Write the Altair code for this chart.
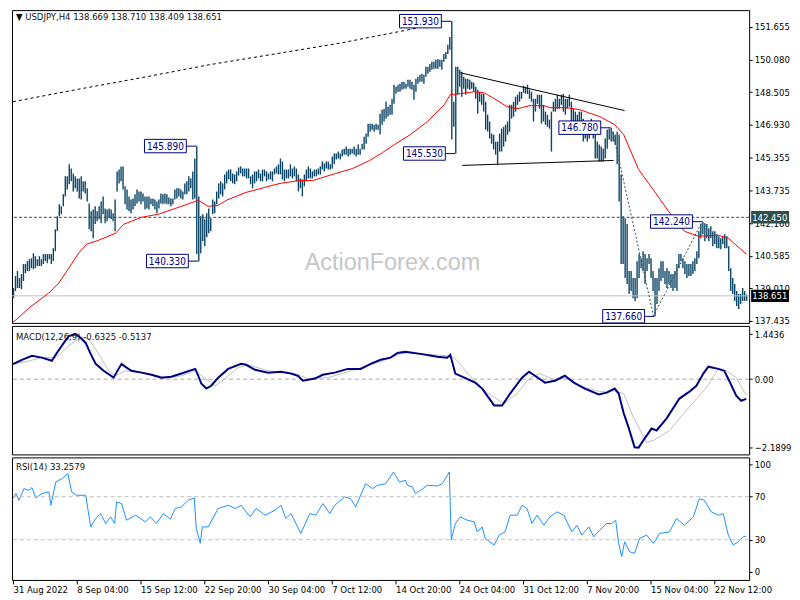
import json
import altair as alt
import pandas as pd

# ---------------- data ----------------
symbol_title = "\u25BC USDJPY,H4  138.669 138.710 138.409 138.651"
macd_title = "MACD(12,26,9) -0.6325 -0.5137"
rsi_title = "RSI(14) 33.2579"
watermark = "ActionForex.com"

bar_high = [
    139.03, 139.61, 139.85, 139.51, 139.71, 140.19, 140.19, 140.33, 140.42, 140.47,
    140.71, 140.57, 140.42, 140.57, 140.42, 140.67, 140.67, 140.67, 140.67, 140.67,
    140.95, 141.87, 142.50, 143.08, 142.98, 143.56, 144.43, 144.43, 145.01, 144.81,
    144.57, 144.43, 144.33, 144.33, 144.43, 144.19, 144.19, 143.85, 143.12, 142.74,
    142.83, 142.98, 142.74, 142.98, 143.22, 143.46, 142.88, 142.83, 142.88, 142.83,
    142.64, 143.31, 144.67, 144.76, 144.91, 144.91, 143.95, 143.80, 143.46, 143.31,
    143.36, 143.56, 143.80, 143.70, 143.70, 143.60, 143.46, 143.46, 143.46, 143.36,
    143.36, 143.31, 143.22, 143.31, 143.60, 143.56, 143.60, 143.56, 143.41, 143.36,
    143.36, 143.80, 143.85, 143.85, 143.80, 143.70, 144.09, 144.19, 144.43, 144.33,
    144.67, 145.29, 145.89, 143.46, 142.50, 142.60, 142.35, 142.64, 142.88, 142.40,
    143.31, 143.22, 143.70, 144.09, 144.19, 144.09, 144.52, 144.67, 144.76, 144.76,
    144.57, 144.52, 144.67, 144.86, 144.91, 144.81, 144.81, 144.81, 144.81, 144.43,
    144.52, 144.67, 144.67, 144.76, 144.57, 144.76, 144.76, 144.67, 144.57, 144.67,
    144.67, 144.81, 144.91, 145.01, 145.29, 145.15, 144.76, 144.76, 144.76, 145.01,
    144.81, 144.91, 144.81, 144.52, 144.33, 144.28, 144.52, 144.76, 144.91, 144.81,
    144.67, 144.76, 144.76, 144.81, 144.91, 145.15, 145.05, 145.15, 145.15, 145.01,
    145.39, 145.53, 145.53, 145.63, 145.53, 145.73, 145.77, 145.87, 145.77, 145.77,
    145.77, 145.87, 145.77, 145.97, 145.77, 146.01, 146.35, 146.50, 146.98, 146.98,
    146.98, 146.93, 146.98, 146.93, 147.46, 147.65, 147.70, 148.04, 147.80, 147.89,
    148.18, 148.86, 148.76, 148.86, 148.91, 149.00, 149.00, 148.91, 149.10, 149.10,
    149.00, 148.86, 149.15, 149.25, 149.34, 149.39, 149.34, 149.73, 149.73, 149.87,
    149.97, 149.97, 150.07, 150.11, 150.07, 150.07, 150.35, 150.45, 150.79, 151.17,
    151.93, 148.04, 149.73, 149.73, 149.58, 149.49, 149.25, 149.15, 149.15, 149.10,
    149.00, 148.96, 148.76, 148.62, 148.52, 148.42, 148.42, 148.04, 147.41, 147.08,
    146.50, 146.45, 146.11, 146.11, 146.50, 146.74, 146.83, 146.93, 147.08, 147.89,
    147.89, 148.04, 148.28, 148.38, 148.52, 148.52, 148.81, 148.76, 148.86, 148.62,
    148.52, 148.18, 148.18, 148.38, 148.38, 148.38, 147.89, 147.56, 147.41, 147.17,
    147.56, 148.04, 148.18, 148.38, 148.18, 148.38, 148.42, 148.18, 148.18, 148.38,
    148.04, 147.70, 147.56, 147.41, 147.56, 147.56, 147.22, 146.93, 146.74, 146.93,
    147.22, 146.93, 146.45, 146.11, 145.97, 145.87, 145.77, 146.26, 146.69, 146.74,
    146.78, 146.59, 146.45, 146.59, 146.45, 144.52, 142.50, 142.40, 142.12, 139.85,
    139.85, 139.51, 139.51, 140.33, 140.67, 140.47, 140.81, 140.67, 140.47, 140.67,
    140.47, 139.85, 139.51, 139.51, 139.99, 140.33, 140.33, 139.85, 139.99, 139.85,
    139.71, 139.71, 139.85, 140.19, 140.67, 140.67, 140.47, 140.33, 140.19, 140.19,
    140.19, 140.33, 140.47, 140.81, 141.78, 142.12, 142.24, 142.16, 142.12, 141.92,
    142.02, 141.78, 141.78, 141.63, 141.53, 141.44, 141.53, 141.63, 141.53, 141.05,
    139.99, 139.51, 139.22, 138.88, 138.74, 138.74, 139.03, 138.88, 138.71,
]
bar_low = [
    138.54, 138.88, 139.03, 139.03, 138.98, 139.37, 139.75, 139.85, 139.85, 139.99,
    139.94, 139.99, 140.09, 140.09, 140.09, 140.19, 140.33, 140.23, 140.42, 140.19,
    140.33, 140.81, 141.78, 142.50, 142.60, 142.98, 143.46, 143.80, 144.05, 144.19,
    143.70, 143.85, 143.70, 143.36, 143.31, 143.70, 143.60, 143.22, 141.87, 141.78,
    141.44, 142.12, 142.26, 142.35, 142.16, 142.60, 142.16, 142.26, 142.40, 142.35,
    142.26, 141.78, 143.70, 144.09, 144.19, 143.80, 143.08, 142.83, 142.74, 142.64,
    142.83, 142.98, 143.12, 143.22, 143.08, 143.22, 142.83, 142.88, 142.83, 143.08,
    142.98, 142.83, 142.64, 142.88, 143.12, 143.08, 143.12, 143.08, 143.08, 142.98,
    143.08, 143.31, 143.36, 143.46, 143.36, 143.31, 143.56, 143.56, 143.70, 143.85,
    143.31, 143.36, 140.67, 140.33, 140.71, 141.29, 141.05, 141.49, 141.68, 141.78,
    142.60, 142.64, 143.08, 143.36, 143.56, 143.46, 143.80, 144.09, 144.28, 144.19,
    144.09, 144.05, 144.19, 144.47, 144.57, 144.43, 144.43, 144.33, 144.33, 144.05,
    143.85, 144.09, 144.19, 144.33, 144.19, 144.19, 144.43, 144.19, 144.28, 144.28,
    144.19, 144.52, 144.57, 144.52, 144.52, 144.28, 144.19, 144.33, 144.33, 144.43,
    144.33, 144.43, 144.19, 143.70, 143.85, 143.46, 143.95, 144.19, 144.33, 144.33,
    144.33, 144.43, 144.43, 144.52, 144.52, 144.76, 144.67, 144.81, 144.76, 144.76,
    144.81, 145.01, 145.24, 145.29, 145.24, 145.39, 145.48, 145.48, 145.39, 145.48,
    145.53, 145.48, 145.39, 145.48, 145.48, 145.73, 145.73, 146.01, 146.35, 146.59,
    146.69, 146.59, 146.69, 146.69, 146.45, 146.93, 147.08, 147.22, 147.32, 147.41,
    147.41, 147.94, 148.42, 148.52, 148.52, 148.62, 148.67, 148.67, 148.76, 148.67,
    148.62, 148.14, 148.52, 148.91, 149.00, 149.00, 148.91, 149.25, 149.39, 149.49,
    149.58, 149.63, 149.63, 149.63, 149.73, 149.58, 149.97, 150.11, 150.35, 150.55,
    146.21, 146.83, 145.53, 148.38, 148.76, 148.28, 148.67, 148.38, 148.67, 148.62,
    148.67, 148.52, 148.18, 147.46, 148.04, 147.89, 147.56, 146.69, 146.59, 146.26,
    146.01, 145.73, 145.48, 145.01, 145.63, 145.63, 145.87, 146.11, 146.45, 146.59,
    147.22, 147.32, 147.56, 147.89, 148.04, 148.18, 148.47, 148.42, 148.42, 148.18,
    148.04, 147.08, 147.56, 147.94, 147.70, 146.98, 147.08, 146.93, 146.83, 146.74,
    145.63, 147.56, 147.56, 147.70, 147.70, 147.89, 147.56, 147.41, 147.70, 147.80,
    147.08, 147.08, 146.93, 146.45, 146.93, 146.59, 146.11, 146.26, 146.11, 146.26,
    146.45, 146.26, 145.29, 145.29, 145.15, 145.15, 145.15, 145.29, 145.77, 146.21,
    146.11, 146.11, 145.97, 145.01, 143.22, 140.19, 140.19, 139.51, 139.22, 138.74,
    138.88, 138.54, 138.40, 138.54, 139.51, 139.99, 139.85, 139.22, 139.85, 140.19,
    139.51, 138.88, 137.66, 138.26, 138.88, 139.37, 139.51, 139.22, 139.03, 139.22,
    139.03, 138.88, 139.03, 138.88, 139.99, 140.33, 139.99, 139.71, 139.51, 139.61,
    139.61, 139.71, 139.85, 140.19, 140.47, 141.44, 141.63, 141.29, 141.44, 141.29,
    141.44, 141.05, 141.15, 140.95, 140.95, 140.90, 141.15, 140.95, 140.95, 139.85,
    138.88, 138.74, 138.40, 138.16, 138.02, 138.26, 138.40, 138.40, 138.41,
]

ema_i = [0, 1.5, 8, 18, 23, 28, 33, 37, 43, 51.5, 55.5, 64.5, 73, 81.5, 91.5, 93, 98, 103, 107,
         117, 134, 144, 150.5, 162, 170.5, 179, 185.5, 191.5, 199.5, 208, 216.5, 219.5, 224.5,
         231.5, 236.5, 241.5, 248, 253, 259.5, 266.5, 269.5, 278, 284.5, 294.5, 302, 306.5, 314,
         322, 329, 337, 344, 354, 359, 368]
ema_v = [137.38, 137.49, 138.06, 138.79, 139.27, 139.99, 140.72, 141.15, 141.34, 141.68, 142.11,
         142.45, 142.60, 142.88, 143.22, 143.27, 142.98, 143.03, 143.27, 143.655, 144.09, 144.23,
         144.23, 144.57, 144.81, 145.20, 145.58, 145.97, 146.45, 147.08, 147.90, 148.38, 148.43,
         148.52, 148.47, 148.19, 147.80, 147.70, 147.85, 147.85, 147.75, 147.75, 147.655, 147.32,
         146.93, 146.45, 144.76, 143.70, 142.74, 141.775, 141.535, 141.58, 141.44, 140.67]

sma_i = [0, 31.5, 64.5, 98, 131.5, 164.5, 198, 203]
sma_v = [148.04, 148.62, 149.20, 149.82, 150.35, 150.88, 151.51, 151.61]

macd_i = [0, 4.5, 9.5, 14.5, 19.5, 22, 25.5, 28, 31.5, 34, 36.5, 39, 41.5, 45.5, 50.5, 53, 54.5,
          57, 59.5, 64.5, 69.5, 74.5, 79.5, 84.5, 91.5, 93, 94.5, 97, 99.5, 103, 108, 114.5, 117,
          121.5, 128, 134.5, 139.5, 143, 145.5, 151.5, 155.5, 161.5, 168, 174.5, 179.5, 184.5,
          189.5, 193, 197, 204.5, 213, 218, 219.5, 222, 226.5, 232, 235.5, 241.5, 245.5, 249.5,
          255.5, 259, 262, 267, 272, 277, 281.5, 287, 294, 298, 302, 304, 306.5, 309, 312, 314,
          317, 320.5, 323, 328, 334.5, 339.5, 343, 346.5, 349, 354, 357, 359.5, 363, 365.5, 368]
macd_v = [0.48, 0.62, 0.75, 0.69, 0.59, 0.84, 1.16, 1.38, 1.44, 1.32, 1.16, 0.81, 0.49, 0.27,
          0.05, 0.33, 0.49, 0.37, 0.27, 0.21, 0.14, 0.05, 0.08, 0.18, 0.33, 0.11, -0.14, -0.30,
          -0.21, 0.05, 0.33, 0.49, 0.46, 0.30, 0.21, 0.24, 0.18, 0.11, -0.05, 0.02, 0.14, 0.21,
          0.33, 0.33, 0.49, 0.62, 0.69, 0.84, 0.88, 0.81, 0.72, 0.69, 0.78, 0.18, 0.05, -0.11,
          -0.30, -0.84, -0.84, -0.46, 0.05, 0.24, 0.11, -0.11, -0.05, 0.11, -0.11, -0.30, -0.49,
          -0.43, -0.30, -0.46, -1.08, -1.55, -2.18, -2.19, -1.90, -1.58, -1.64, -1.26, -0.62,
          -0.40, -0.21, 0.18, 0.40, 0.33, 0.27, -0.05, -0.53, -0.69, -0.63]

sig_i = [0, 6.5, 14.5, 21.5, 28, 34, 38, 43, 48, 51.5, 56.5, 64.5, 78, 84.5, 91.5, 96.5, 101.5,
         106.5, 113, 118, 128, 141.5, 148, 158, 173, 184.5, 194.5, 198, 218, 221.5, 231.5, 238,
         246.5, 253, 259.5, 264.5, 271.5, 278, 284.5, 294.5, 301.5, 306.5, 311.5, 318, 321.5,
         329.5, 338, 348, 354, 358, 363, 368]
sig_v = [0.49, 0.56, 0.69, 0.69, 1.07, 1.35, 1.29, 0.81, 0.27, 0.11, 0.27, 0.21, 0.05, 0.11,
         0.27, 0.02, -0.21, 0.02, 0.37, 0.46, 0.27, 0.18, 0.02, 0.05, 0.33, 0.56, 0.81, 0.84,
         0.75, 0.69, -0.05, -0.43, -0.78, -0.46, 0.05, 0.18, -0.02, 0.02, -0.21, -0.40, -0.37,
         -0.46, -1.23, -2.02, -1.96, -1.64, -1.00, -0.27, 0.33, 0.27, 0.05, -0.51]

rsi_i = [0, 1.5, 3, 5.5, 8, 9.5, 11.5, 14.5, 18, 19, 21.5, 24.5, 27.5, 29.5, 32, 36.5, 39, 41.5,
         44, 46.5, 49, 51, 52, 54.5, 57, 61.5, 66.5, 69, 72, 75.5, 79, 81.5, 84.5, 88, 91, 92, 94,
         95, 98, 103, 108, 111.5, 114.5, 119, 122, 126.5, 131.5, 134.5, 137, 139.5, 144.5, 149,
         152, 155.5, 159, 161.5, 166.5, 169.5, 172, 177, 180.5, 183, 187, 191, 194, 197, 198,
         200.5, 202, 204.5, 208, 213, 215.5, 219, 220, 222, 224.5, 228, 231.5, 233, 235.5, 237,
         241.5, 244, 247, 249.5, 253, 255.5, 258, 260.5, 263, 266.5, 269.5, 273, 276.5, 280.5,
         283, 285.5, 289, 291.5, 294.5, 298, 300.5, 302.5, 304, 305.5, 307, 309.5, 312, 314.5,
         318, 321.5, 324.5, 329.5, 333, 337, 341.5, 344.5, 347, 350.5, 354, 356.5, 359, 361.5,
         364, 366.5, 368]
rsi_v = [68.2, 72.9, 66.7, 77.5, 75.9, 78.4, 68.8, 72.9, 74.4, 62.0, 83.6, 86.7, 91.4, 74.4,
         71.3, 71.3, 41.9, 49.7, 54.3, 45.1, 51.2, 45.1, 65.1, 63.6, 48.1, 52.8, 46.6, 51.2,
         45.1, 54.3, 49.1, 59.0, 60.5, 66.7, 68.8, 40.4, 26.6, 41.9, 41.9, 59.0, 62.0, 59.0,
         62.0, 51.2, 59.0, 52.8, 57.4, 62.0, 49.7, 54.3, 35.8, 54.3, 52.8, 63.6, 54.3, 62.0,
         69.8, 68.2, 60.5, 82.1, 77.5, 80.6, 82.1, 92.9, 83.6, 85.2, 80.6, 79.0, 72.9, 75.9,
         80.6, 79.9, 82.1, 92.9, 29.6, 45.1, 51.2, 48.1, 46.6, 37.3, 41.9, 31.2, 25.0, 34.3,
         37.3, 52.8, 52.8, 62.0, 59.0, 45.1, 52.8, 43.5, 51.2, 55.8, 52.8, 37.3, 43.5, 34.3,
         41.9, 32.7, 38.9, 45.1, 45.1, 48.1, 26.6, 14.2, 28.1, 18.8, 17.3, 31.2, 34.3, 26.6,
         35.8, 37.3, 49.7, 43.5, 51.2, 68.2, 66.7, 55.8, 52.8, 54.3, 34.3, 25.0, 28.1, 32.7,
         33.26]

trend_i = [224.5, 307, 225.5, 301.5]
trend_v = [149.44, 147.61, 144.96, 145.20]
trend_g = ["upper", "upper", "lower", "lower"]

zig_i = [301, 321.5, 346]
zig_v = [146.59, 137.68, 142.26]

ann_text = ["151.930", "145.890", "140.330", "145.530", "146.780", "142.240", "137.660"]
ann_price = [151.93, 145.89, 140.33, 145.53, 146.78, 142.24, 137.66]
ann_bar = [220, 92, 93, 222, 300, 346, 322]

level_price = [142.45]
last_price = [138.651]
tag_text = ["142.450", "138.651"]
tag_price = [142.45, 138.651]
tag_color = ["#2f4f4f", "#000000"]

price_ticks = [151.655, 150.080, 148.505, 146.930, 145.355, 143.735, 142.160, 140.585, 139.010, 137.435]
macd_ticks = [1.4436, 0.0, -2.1899]
rsi_ticks = [100, 70, 30, 0]
rsi_levels = [70, 30]
x_labels = ["31 Aug 2022", "8 Sep 04:00", "15 Sep 12:00", "22 Sep 20:00", "30 Sep 04:00",
            "7 Oct 12:00", "14 Oct 20:00", "24 Oct 04:00", "31 Oct 12:00", "7 Nov 20:00",
            "15 Nov 04:00", "22 Nov 12:00"]
x_label_step = 32

# ---------------- layout / style ----------------
FONT = "'DejaVu Sans Condensed', 'Liberation Sans', sans-serif"
FS = 9.5
W = 740
H1, H2, H3 = 314, 129, 123
XDOM = [-0.5, 369.5]
PDOM = [137.342, 152.47]
MDOM = [-2.407, 1.705]
RDOM = [-7.4, 106.5]
BAR = "#0c4566"
NAVY = "#000080"

xs = alt.Scale(domain=XDOM, nice=False, zero=False)
ps = alt.Scale(domain=PDOM, nice=False, zero=False)
ms = alt.Scale(domain=MDOM, nice=False, zero=False)
rs = alt.Scale(domain=RDOM, nice=False, zero=False)

P_AXIS = alt.Axis(orient="right", values=price_ticks, format=".3f", tickSize=3,
                  labelPadding=2, labelAlign="left", labelBaseline="middle")
M_AXIS = alt.Axis(orient="right", values=macd_ticks, tickSize=3, labelPadding=2,
                  labelAlign="left", labelBaseline="middle",
                  labelExpr="datum.value == 0 ? '0.00' : format(datum.value, '.4f')")
R_AXIS = alt.Axis(orient="right", values=rsi_ticks, format="d", tickSize=3,
                  labelPadding=2, labelAlign="left", labelBaseline="middle")
lab_expr = json.dumps(x_labels) + f"[round(datum.value / {x_label_step})]"
X_AXIS = alt.Axis(orient="bottom", values=[x_label_step * k for k in range(len(x_labels))],
                  labelExpr=lab_expr, tickSize=4, labelPadding=1, labelAlign="left",
                  labelBaseline="top")


def X(f="i"):
    return alt.X(f"{f}:Q", scale=xs, axis=None, title=None)


def XR(f="i"):
    return alt.X(f"{f}:Q", scale=xs, axis=X_AXIS, title=None)


def YP(f):
    return alt.Y(f"{f}:Q", scale=ps, axis=P_AXIS, title=None)


def YM(f):
    return alt.Y(f"{f}:Q", scale=ms, axis=M_AXIS, title=None)


def YR(f):
    return alt.Y(f"{f}:Q", scale=rs, axis=R_AXIS, title=None)


bars = pd.DataFrame({"i": list(range(len(bar_high))), "high": bar_high, "low": bar_low})
ema = pd.DataFrame({"i": ema_i, "v": ema_v})
sma = pd.DataFrame({"i": sma_i, "v": sma_v})
trend = pd.DataFrame({"i": trend_i, "v": trend_v, "g": trend_g})
zig = pd.DataFrame({"i": zig_i, "v": zig_v})
ann = pd.DataFrame({"t": ann_text, "p": ann_price, "b": ann_bar})
tags = pd.DataFrame({"t": tag_text, "p": tag_price, "c": tag_color})

# ---- price panel ----
bar_l = alt.Chart(bars).mark_rule(color=BAR, strokeWidth=1.4, opacity=1, strokeOpacity=1,
                                  xOffset=0.5).encode(x=X(), y=YP("high"), y2="low:Q")

wm = alt.Chart(pd.DataFrame({"t": [watermark]})).mark_text(
    font="Liberation Sans", fontSize=23.5, color="#c6c6c6", align="center", baseline="middle"
).encode(x=alt.value(382), y=alt.value(254), text="t:N")

lvl = alt.Chart(pd.DataFrame({"p": level_price})).mark_rule(
    color="#2f4f4f", strokeDash=[3, 2], strokeWidth=1).encode(y=YP("p"))
cur = alt.Chart(pd.DataFrame({"p": last_price})).mark_rule(
    color="#c0c0c0", strokeWidth=1).encode(y=YP("p"))

sma_l = alt.Chart(sma).mark_line(color="#000000", strokeWidth=1, strokeDash=[3, 3]).encode(
    x=X(), y=YP("v"), order="i:Q")
ema_l = alt.Chart(ema).mark_line(color="#ff0000", strokeWidth=1).encode(
    x=X(), y=YP("v"), order="i:Q")
trend_l = alt.Chart(trend).mark_line(color="#000000", strokeWidth=1).encode(
    x=X(), y=YP("v"), detail="g:N", order="i:Q")
zig_l = alt.Chart(zig).mark_line(color="#2f4f4f", strokeWidth=1, strokeDash=[2, 2]).encode(
    x=X(), y=YP("v"), order="i:Q")

ann_base = alt.Chart(ann).transform_calculate(
    r="datum.b - 5", l="datum.b - 26", c="datum.b - 15.5",
    top="datum.p + 0.33", bot="datum.p - 0.32")
ann_box = ann_base.mark_rect(fill="white", stroke=NAVY, strokeWidth=1).encode(
    x=X("l"), x2="r:Q", y=YP("top"), y2="bot:Q")
ann_txt = ann_base.mark_text(font=FONT, fontSize=FS + 0.5, color=NAVY, align="center",
                             baseline="middle", dy=0.5).encode(x=X("c"), y=YP("p"), text="t:N")
ann_con = ann_base.mark_rule(color=NAVY, strokeWidth=1).encode(x=X("r"), x2="b:Q", y=YP("p"))

tag_base = alt.Chart(tags).transform_calculate(top="datum.p + 0.3", bot="datum.p - 0.3")
tag_box = tag_base.mark_rect().encode(
    x=alt.value(W + 2), x2=alt.value(W + 40), y=YP("top"), y2="bot:Q",
    fill=alt.Color("c:N", scale=None))
tag_txt = tag_base.mark_text(font=FONT, fontSize=FS, color="white", align="left",
                             baseline="middle", dy=0.5).encode(
    x=alt.value(W + 3), y=YP("p"), text="t:N")

ttl = alt.Chart(pd.DataFrame({"t": [symbol_title]})).mark_text(
    font=FONT, fontSize=FS, color="#111111", align="left", baseline="middle"
).encode(x=alt.value(4), y=alt.value(7), text="t:N")

price = alt.layer(bar_l, wm, lvl, cur, sma_l, ema_l, ann_box, ann_con, ann_txt,
                  trend_l, zig_l, tag_box, tag_txt, ttl).properties(width=W, height=H1)

# ---- MACD ----
macd_df = pd.DataFrame({"i": macd_i, "v": macd_v})
sig_df = pd.DataFrame({"i": sig_i, "v": sig_v})
zero = alt.Chart(pd.DataFrame({"v": [0.0]})).mark_rule(
    color="#a8a8a8", strokeDash=[4, 3], strokeWidth=1).encode(y=YM("v"))
sig_l = alt.Chart(sig_df).mark_line(color="#c0c0c0", strokeWidth=1).encode(
    x=X(), y=YM("v"), order="i:Q")
macd_l = alt.Chart(macd_df).mark_line(color=NAVY, strokeWidth=2).encode(
    x=X(), y=YM("v"), order="i:Q")
mttl = alt.Chart(pd.DataFrame({"t": [macd_title]})).mark_text(
    font=FONT, fontSize=FS, color="#111111", align="left", baseline="middle"
).encode(x=alt.value(4), y=alt.value(11), text="t:N")
macd = alt.layer(zero, sig_l, macd_l, mttl).properties(width=W, height=H2)

# ---- RSI ----
rsi_df = pd.DataFrame({"i": rsi_i, "v": rsi_v})
rlv = alt.Chart(pd.DataFrame({"v": rsi_levels})).mark_rule(
    color="#c0c0c0", strokeDash=[4, 3], strokeWidth=1).encode(y=YR("v"))
rsi_l = alt.Chart(rsi_df).mark_line(color="#1e90ff", strokeWidth=1).encode(
    x=XR(), y=YR("v"), order="i:Q")
rttl = alt.Chart(pd.DataFrame({"t": [rsi_title]})).mark_text(
    font=FONT, fontSize=FS, color="#111111", align="left", baseline="middle"
).encode(x=alt.value(4), y=alt.value(10), text="t:N")
rsi = alt.layer(rsi_l, rlv, rttl).properties(width=W, height=H3)

chart = alt.vconcat(price, macd, rsi, spacing=3, bounds="flush").properties(
    padding={"left": 0, "top": 0, "right": 0, "bottom": 0}, background="white"
).configure_view(stroke="#000000", strokeWidth=1).configure_axis(
    labelFont=FONT, labelFontSize=FS, labelColor="#000000", tickColor="#000000",
    grid=False, domain=False, labelOverlap=False, labelFlush=False, labelBound=False
)

chart.save("out.html", embed_options={"renderer": "svg", "actions": False})
